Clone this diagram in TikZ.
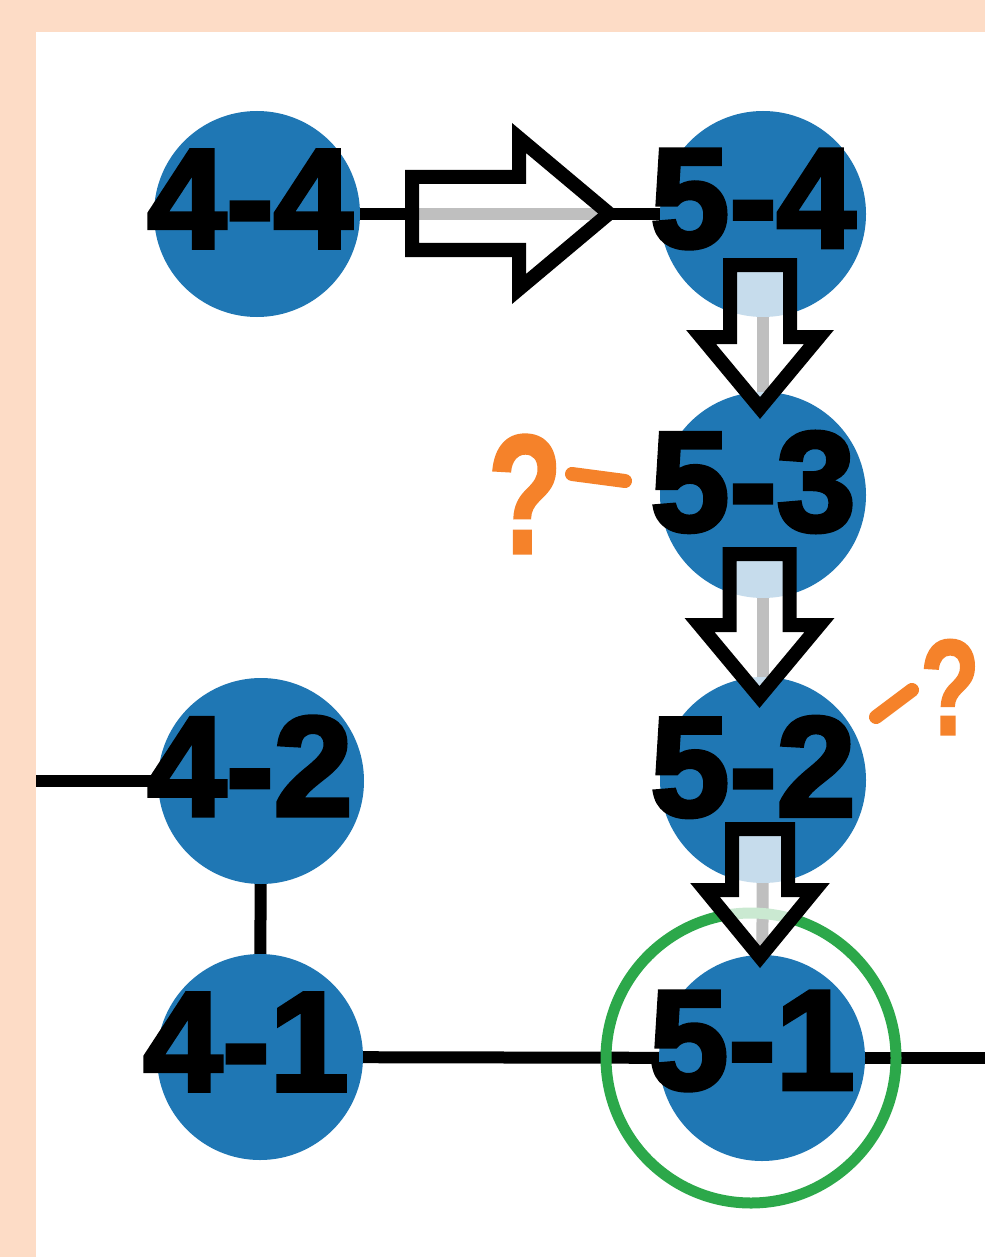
\documentclass[tikz,border=0pt]{standalone}
\usepackage{fontspec}
\setmainfont{Liberation Sans}
\newfontfamily\lblfont{Liberation Sans}[BoldFeatures={FakeBold=3}]
\newfontfamily\notefont{Liberation Sans}[BoldFeatures={FakeBold=1.5}]
\usetikzlibrary{calc}
\definecolor{peach}{HTML}{FDDCC6}
\definecolor{nodeblue}{HTML}{1F77B4}
\definecolor{ringgreen}{HTML}{2CA84A}
\definecolor{noteorange}{HTML}{F5822A}
\pgfdeclarelayer{bg}
\pgfdeclarelayer{edgelayer}
\pgfsetlayers{bg,edgelayer,main}
\tikzset{
  vtx/.style={circle, fill=nodeblue, minimum size=206pt, inner sep=0pt},
  lbl/.style={inner sep=0pt, text=black, font=\lblfont\bfseries\fontsize{142}{142}\selectfont},
  edge/.style={draw=black, line width=12pt},
  ring/.style={circle, draw=ringgreen, line width=11pt, minimum size=290pt, inner sep=0pt},
  blockarrow/.style={draw=black, line width=14pt, line join=miter, fill=white, fill opacity=0.75},
  note/.style={draw=noteorange, line width=14pt, line cap=round},
  qmark/.style={inner sep=0pt, text=noteorange, font=\notefont\bfseries\fontsize{170}{170}\selectfont}
}
% downward block arrow: x centre, top, head base, tip, shaft half width, head half width
\newcommand\downblock[6]{%
  \draw[blockarrow] (#1-#5,#2) -- (#1+#5,#2) -- (#1+#5,#3) -- (#1+#6,#3) -- (#1,#4)
    -- (#1-#6,#3) -- (#1-#5,#3) -- cycle;}
\begin{document}
\begin{tikzpicture}[x=1pt, y=-1pt]
  \useasboundingbox (0,0) rectangle (985,1257);
  \begin{pgfonlayer}{bg}
    \fill[peach] (0,0) rectangle (985,1257);
    \fill[white] (36,32) rectangle (985,1257);
  \end{pgfonlayer}

  % vertices
  \node[vtx] (n44) at (257,214) {};
  \node[vtx] (n54) at (763,214) {};
  \node[vtx] (n53) at (763,495) {};
  \node[vtx] (n52) at (763,780) {};
  \node[vtx] (n42) at (261,781) {};
  \node[vtx] (n41) at (260,1057) {};
  \node[vtx] (n51) at (762,1058) {};

  % labels, set a little above and left of each centre
  \node[lbl] (t44) at ([shift={(-7pt,15pt)}]n44.center) {4-4};
  \node[lbl] (t54) at ([shift={(-10pt,15pt)}]n54.center) {5-4};
  \node[lbl] (t53) at ([shift={(-10pt,13pt)}]n53.center) {5-3};
  \node[lbl] (t52) at ([shift={(-10pt,13pt)}]n52.center) {5-2};
  \node[lbl] (t42) at ([shift={(-11pt,15pt)}]n42.center) {4-2};
  \node[lbl] (t41) at ([shift={(-14pt,15pt)}]n41.center) {4-1};
  \node[lbl] (t51) at ([shift={(-10pt,17pt)}]n51.center) {5-1};

  % edges
  \coordinate (wl) at (36,781);
  \coordinate (wr) at (985,1058);
  \begin{pgfonlayer}{edgelayer}
    \draw[edge] (n44) -- (n54);
    \draw[edge] (n54) -- (n53);
    \draw[edge] (n53) -- (n52);
    \draw[edge] (n52) -- (n51);
    \draw[edge] (wl) -- (n42);
    \draw[edge] (n42) -- (n41);
    \draw[edge] (n41) -- (n51);
    \draw[edge] (n51) -- (wr);
  \end{pgfonlayer}

  % highlighted vertex
  \node[ring] (ring) at (751,1058) {};

  % step arrows
  \draw[blockarrow] (412,177) -- (519,177) -- (519,138) -- (609,213.5) -- (519,289)
    -- (519,250) -- (412,250) -- cycle;
  \downblock{760}{265}{337}{408}{30}{59}
  \downblock{759.5}{554}{625}{697}{30}{60}
  \downblock{760}{829}{890}{957}{28}{55}

  % question marks
  \node[qmark, xscale=0.72] (q1) at (525,494) {?};
  \coordinate (d1a) at (572,474);
  \coordinate (d1b) at (625,481);
  \draw[note] (d1a) -- (d1b);
  \node[qmark, xscale=0.72, scale=0.8] (q2) at (950,687) {?};
  \coordinate (d2a) at (876,717);
  \coordinate (d2b) at (912,690);
  \draw[note] (d2a) -- (d2b);
\end{tikzpicture}
\end{document}
